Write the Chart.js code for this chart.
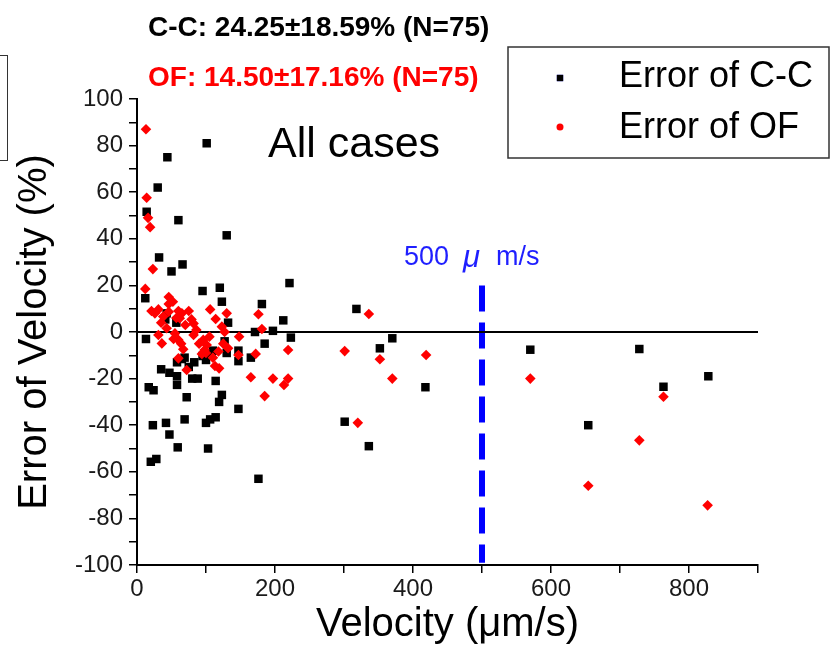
<!DOCTYPE html>
<html>
<head>
<meta charset="utf-8">
<script src="https://cdn.jsdelivr.net/npm/chart.js@4"></script>
<style>
  html, body { margin: 0; padding: 0; background: #fff; }
  #wrap { position: relative; width: 838px; height: 668px; overflow: hidden; }
  #chart { position: absolute; left: 0; top: 0; }
  /* bout de cadre coupé à gauche */
  #leftBox { position: absolute; left: -12px; top: 55px; width: 18px; height: 104px; border: 1.5px solid #333; }
</style>
</head>
<body>
<div id="wrap">
  <canvas id="chart" width="838" height="668"></canvas>
  <div id="leftBox"></div>
</div>
<script>
// Error of C-C (black squares)
const ccVelocity = [101, 44, 30, 14, 60, 130, 32, 66, 50, 12, 95, 120, 123, 181, 221, 212, 132, 171, 197, 13,
  41, 57, 127, 185, 147, 147, 165, 108, 95, 83, 65, 58, 35, 47, 58, 58, 80, 88, 114, 17,
  24, 72, 123, 119, 147, 69, 42, 23, 100, 106, 114, 47, 59, 103, 20, 28, 176, 223, 318, 352,
  370, 418, 301, 336, 570, 728, 828, 763, 654, 43, 69, 100, 130, 110, 75];
const ccError = [81, 75, 62, 51.6, 48, 41.5, 32, 29, 26, 14.5, 17.6, 19, 13, 12, 21, 5, 4, 0, 0.5, -3,
  5.4, 4, -4, -5, -8, -12.5, -11, -10, -10.3, -13, -11.6, -13, -16, -17.5, -19, -22.7, -20, -20, -21, -23.7,
  -25, -28, -27, -30, -33, -37.5, -39, -40, -39, -37.5, -36.6, -44, -49.5, -50, -55.7, -54.5, -63, -2.4, 9.9, -7,
  -2.7, -23.7, -38.5, -49, -7.6, -7.3, -19, -23.5, -40, 8, -11, -12, -9, -8, -15];

// Error of OF (red diamonds)
const ofVelocity = [13, 14, 16, 19, 23, 12, 176, 181, 106, 130, 114, 46, 46, 46, 21, 31, 26, 38, 60, 65,
  62, 79, 82, 123, 127, 86, 43, 55, 31, 36, 53, 60, 82, 96, 101, 98, 94, 67, 118, 132,
  148, 147, 172, 60, 72, 113, 119, 165, 185, 197, 213, 219, 219, 336, 301, 352, 419, 370, 320, 570,
  763, 728, 654, 827, 52, 35, 70, 90, 105, 125, 57, 75, 64, 110, 100];
const ofError = [87, 57.6, 49, 45, 27, 18.5, 7.6, 1.3, 9.7, 8, 5.6, 15, 12, 8.7, 9, 9.7, 8, 6.6, 9, 8,
  5.9, 5.4, 3.7, 2.3, 0, 0.9, 1.6, -0.6, -1.3, -4.9, -3, -3.4, -1.3, -3.4, -5.6, -7.7, -9.4, -7.4, -8.4, -7,
  -2, -9.9, -9.4, -11.3, -16.3, -14.6, -15.6, -19.4, -27.5, -20, -22.7, -20, -7.7, 7.7, -8.2, -11.7, -9.9, -20, -39, -20,
  -27.8, -46.5, -66, -74.4, 13, 4, 3, -5, -2, -5, 6, 9, -5, -11, -9];

// repères
const zeroLineX = [0, 900];
const limitVelocity = 500;
const limitLineY = [20, -99];

// graduations
const xTickLabels = [0, 200, 400, 600, 800];
const yTickLabels = [-100, -80, -60, -40, -20, 0, 20, 40, 60, 80, 100];

const FONT = "'Liberation Sans', Arial, sans-serif";

function toPoints(xs, ys) {
  return xs.map((x, i) => ({ x: x, y: ys[i] }));
}

// textes + légende dessinés par-dessus le graphique
const annotations = {
  id: 'annotations',
  afterDraw(chart) {
    const ctx = chart.ctx;
    ctx.save();
    ctx.textBaseline = 'middle';
    ctx.textAlign = 'left';

    ctx.font = `bold 28px ${FONT}`;
    ctx.fillStyle = '#000';
    ctx.fillText('C-C: 24.25±18.59% (N=75)', 148, 28);
    ctx.fillStyle = '#ff0000';
    ctx.fillText('OF: 14.50±17.16% (N=75)', 148, 78);

    ctx.font = `43px ${FONT}`;
    ctx.fillStyle = '#000';
    ctx.fillText('All cases', 268, 145);

    ctx.font = `27px ${FONT}`;
    ctx.fillStyle = '#1f1fff';
    ctx.fillText('500 ', 404, 258);
    ctx.font = `italic 31px ${FONT}`;
    ctx.fillText('μ', 463, 258);
    ctx.font = `27px ${FONT}`;
    ctx.fillText('m/s', 496, 258);

    // légende
    ctx.lineWidth = 1.5;
    ctx.strokeStyle = '#333';
    ctx.strokeRect(508, 47, 321, 111);
    Chart.helpers.drawPoint(ctx, { pointStyle: 'rect', radius: 4.5, rotation: 0, borderWidth: 0 }, 560, 78);
    ctx.fillStyle = '#000';
    ctx.fill();
    ctx.beginPath();
    ctx.fillStyle = '#ff0000';
    ctx.arc(560, 127, 3.5, 0, Math.PI * 2);
    ctx.fill();
    ctx.font = `36px ${FONT}`;
    ctx.fillStyle = '#000';
    ctx.fillText('Error of C-C', 619, 77);
    ctx.fillText('Error of OF', 619, 128);
    ctx.restore();
  }
};

new Chart(document.getElementById('chart'), {
  type: 'scatter',
  data: {
    datasets: [
      {
        label: 'Error of OF',
        data: toPoints(ofVelocity, ofError),
        pointStyle: 'rectRot',
        pointRadius: 5.3,
        backgroundColor: '#ff0000',
        borderColor: '#ff0000',
        borderWidth: 0,
        order: 0
      },
      {
        label: 'Error of C-C',
        data: toPoints(ccVelocity, ccError),
        pointStyle: 'rect',
        pointRadius: 6,
        backgroundColor: '#000',
        borderColor: '#000',
        borderWidth: 0,
        order: 1
      },
      {
        type: 'line',
        label: 'zero',
        data: zeroLineX.map(x => ({ x: x, y: 0 })),
        borderColor: '#000',
        borderWidth: 2,
        pointRadius: 0,
        order: 2
      },
      {
        type: 'line',
        label: '500',
        data: limitLineY.map(y => ({ x: limitVelocity, y: y })),
        borderColor: '#0000ff',
        borderWidth: 6,
        borderDash: [26, 11],
        pointRadius: 0,
        order: 3
      }
    ]
  },
  options: {
    responsive: false,
    animation: false,
    layout: { padding: { top: 99, right: 80, left: 0, bottom: 0 } },
    plugins: {
      legend: { display: false },
      tooltip: { enabled: false }
    },
    scales: {
      x: {
        type: 'linear',
        min: 0,
        max: 900,
        afterFit: s => { s.height = 103; },
        border: { display: true, color: '#000', width: 2 },
        grid: { drawOnChartArea: false, color: '#000', tickLength: 8, lineWidth: 1.5 },
        ticks: {
          stepSize: 100,
          padding: 2,
          color: '#1a1a1a',
          font: { family: FONT, size: 24 },
          maxRotation: 0,
          autoSkip: false,
          callback: v => xTickLabels.includes(v) ? String(v) : ''
        },
        title: {
          display: true,
          text: 'Velocity (μm/s)',
          color: '#000',
          font: { family: FONT, size: 40 },
          padding: { top: 0, bottom: 19 }
        }
      },
      y: {
        min: -100,
        max: 100,
        afterFit: s => { s.width = 137; },
        border: { display: true, color: '#000', width: 2 },
        grid: { drawOnChartArea: false, color: '#000', tickLength: 8, lineWidth: 1.5 },
        ticks: {
          stepSize: 10,
          padding: 6,
          color: '#1a1a1a',
          font: { family: FONT, size: 24 },
          autoSkip: false,
          callback: v => yTickLabels.includes(v) ? String(v) : ''
        },
        title: {
          display: true,
          text: 'Error of Velocity (%)',
          color: '#000',
          font: { family: FONT, size: 40 },
          padding: { top: 11, bottom: 0 }
        }
      }
    }
  },
  plugins: [annotations]
});
</script>
</body>
</html>
